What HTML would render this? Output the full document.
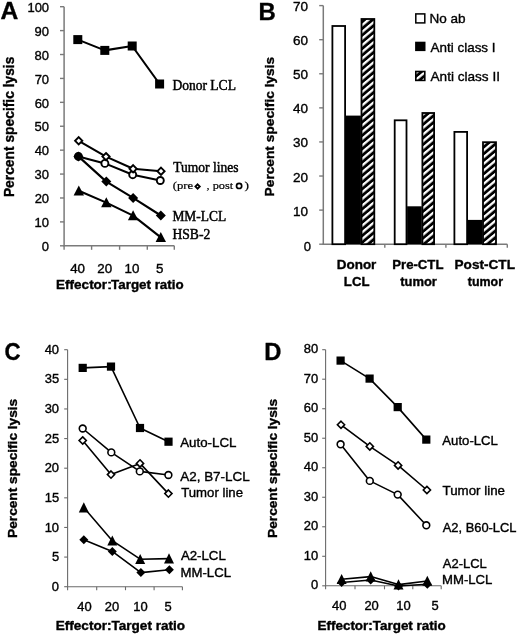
<!DOCTYPE html>
<html><head><meta charset="utf-8"><style>
html,body{margin:0;padding:0;background:#fff;}
svg{display:block;will-change:transform;}
text{font-kerning:normal;}
.t{stroke:#000;stroke-width:0.35px;}
.s{stroke-width:0.45px;}
</style></head><body>
<svg width="520" height="635" viewBox="0 0 520 635">
<defs>
<pattern id="hatch" patternUnits="userSpaceOnUse" width="5.12" height="5.12" patternTransform="rotate(-40)">
<rect width="5.12" height="5.12" fill="#000"/><rect y="0" width="5.12" height="2.3" fill="#fff"/>
</pattern>
<pattern id="hatch2" patternUnits="userSpaceOnUse" y="4.673" width="5.12" height="5.12" patternTransform="rotate(-40)">
<rect width="5.12" height="5.12" fill="#000"/><rect y="0" width="5.12" height="2.3" fill="#fff"/>
</pattern>
</defs>
<rect width="520" height="635" fill="#fff"/>
<line x1="64.10" y1="6.70" x2="64.10" y2="246.30" stroke="#7a7a7a" stroke-width="1.5" stroke-linecap="butt"/>
<line x1="60.00" y1="245.80" x2="64.10" y2="245.80" stroke="#7a7a7a" stroke-width="1.4" stroke-linecap="butt"/>
<line x1="60.00" y1="221.89" x2="64.10" y2="221.89" stroke="#7a7a7a" stroke-width="1.4" stroke-linecap="butt"/>
<line x1="60.00" y1="197.98" x2="64.10" y2="197.98" stroke="#7a7a7a" stroke-width="1.4" stroke-linecap="butt"/>
<line x1="60.00" y1="174.07" x2="64.10" y2="174.07" stroke="#7a7a7a" stroke-width="1.4" stroke-linecap="butt"/>
<line x1="60.00" y1="150.16" x2="64.10" y2="150.16" stroke="#7a7a7a" stroke-width="1.4" stroke-linecap="butt"/>
<line x1="60.00" y1="126.25" x2="64.10" y2="126.25" stroke="#7a7a7a" stroke-width="1.4" stroke-linecap="butt"/>
<line x1="60.00" y1="102.34" x2="64.10" y2="102.34" stroke="#7a7a7a" stroke-width="1.4" stroke-linecap="butt"/>
<line x1="60.00" y1="78.43" x2="64.10" y2="78.43" stroke="#7a7a7a" stroke-width="1.4" stroke-linecap="butt"/>
<line x1="60.00" y1="54.52" x2="64.10" y2="54.52" stroke="#7a7a7a" stroke-width="1.4" stroke-linecap="butt"/>
<line x1="60.00" y1="30.61" x2="64.10" y2="30.61" stroke="#7a7a7a" stroke-width="1.4" stroke-linecap="butt"/>
<line x1="60.00" y1="6.70" x2="64.10" y2="6.70" stroke="#7a7a7a" stroke-width="1.4" stroke-linecap="butt"/>
<line x1="63.40" y1="245.80" x2="174.30" y2="245.80" stroke="#7a7a7a" stroke-width="1.5" stroke-linecap="butt"/>
<line x1="64.10" y1="245.80" x2="64.10" y2="249.80" stroke="#7a7a7a" stroke-width="1.4" stroke-linecap="butt"/>
<line x1="91.60" y1="245.80" x2="91.60" y2="249.80" stroke="#7a7a7a" stroke-width="1.4" stroke-linecap="butt"/>
<line x1="119.60" y1="245.80" x2="119.60" y2="249.80" stroke="#7a7a7a" stroke-width="1.4" stroke-linecap="butt"/>
<line x1="147.30" y1="245.80" x2="147.30" y2="249.80" stroke="#7a7a7a" stroke-width="1.4" stroke-linecap="butt"/>
<line x1="174.30" y1="245.80" x2="174.30" y2="249.80" stroke="#7a7a7a" stroke-width="1.4" stroke-linecap="butt"/>
<polyline points="77.80,39.60 104.80,50.40 132.20,46.00 159.60,84.00" fill="none" stroke="#000" stroke-width="2.1" stroke-linejoin="round"/>
<rect x="73.30" y="35.10" width="9.00" height="9.00" fill="#000"/>
<rect x="100.30" y="45.90" width="9.00" height="9.00" fill="#000"/>
<rect x="127.70" y="41.50" width="9.00" height="9.00" fill="#000"/>
<rect x="155.10" y="79.50" width="9.00" height="9.00" fill="#000"/>
<polyline points="78.80,190.80 106.30,202.60 133.10,215.60 160.80,237.40" fill="none" stroke="#000" stroke-width="2.1" stroke-linejoin="round"/>
<polyline points="78.40,156.40 106.30,181.60 133.10,197.90 160.80,215.50" fill="none" stroke="#000" stroke-width="2.1" stroke-linejoin="round"/>
<polyline points="78.40,156.40 104.90,163.40 132.70,174.70 160.30,180.50" fill="none" stroke="#000" stroke-width="2.1" stroke-linejoin="round"/>
<polyline points="78.70,140.80 106.00,156.60 133.10,168.80 161.00,171.20" fill="none" stroke="#000" stroke-width="2.1" stroke-linejoin="round"/>
<polygon points="78.80,185.50 84.00,195.50 73.60,195.50" fill="#000"/>
<polygon points="106.30,197.30 111.50,207.30 101.10,207.30" fill="#000"/>
<polygon points="133.10,210.30 138.30,220.30 127.90,220.30" fill="#000"/>
<polygon points="160.80,232.10 166.00,242.10 155.60,242.10" fill="#000"/>
<circle cx="78.40" cy="156.40" r="3.50" fill="#fff" stroke="#000" stroke-width="1.9"/>
<circle cx="104.90" cy="163.40" r="3.50" fill="#fff" stroke="#000" stroke-width="1.9"/>
<circle cx="132.70" cy="174.70" r="3.50" fill="#fff" stroke="#000" stroke-width="1.9"/>
<circle cx="160.30" cy="180.50" r="3.50" fill="#fff" stroke="#000" stroke-width="1.9"/>
<polygon points="78.40,151.40 83.40,156.40 78.40,161.40 73.40,156.40" fill="#000"/>
<polygon points="106.30,176.60 111.30,181.60 106.30,186.60 101.30,181.60" fill="#000"/>
<polygon points="133.10,192.90 138.10,197.90 133.10,202.90 128.10,197.90" fill="#000"/>
<polygon points="160.80,210.50 165.80,215.50 160.80,220.50 155.80,215.50" fill="#000"/>
<polygon points="78.70,137.20 82.30,140.80 78.70,144.40 75.10,140.80" fill="#fff" stroke="#000" stroke-width="1.9" stroke-linejoin="miter"/>
<polygon points="106.00,153.00 109.60,156.60 106.00,160.20 102.40,156.60" fill="#fff" stroke="#000" stroke-width="1.9" stroke-linejoin="miter"/>
<polygon points="133.10,165.20 136.70,168.80 133.10,172.40 129.50,168.80" fill="#fff" stroke="#000" stroke-width="1.9" stroke-linejoin="miter"/>
<polygon points="161.00,167.60 164.60,171.20 161.00,174.80 157.40,171.20" fill="#fff" stroke="#000" stroke-width="1.9" stroke-linejoin="miter"/>
<polygon points="197.60,184.30 199.80,186.50 197.60,188.70 195.40,186.50" fill="#fff" stroke="#000" stroke-width="1.8" stroke-linejoin="miter"/>
<circle cx="239.10" cy="185.90" r="2.60" fill="#fff" stroke="#000" stroke-width="1.7"/>
<line x1="323.30" y1="5.60" x2="323.30" y2="244.70" stroke="#7a7a7a" stroke-width="1.5" stroke-linecap="butt"/>
<line x1="319.20" y1="244.20" x2="323.30" y2="244.20" stroke="#7a7a7a" stroke-width="1.4" stroke-linecap="butt"/>
<line x1="319.20" y1="210.11" x2="323.30" y2="210.11" stroke="#7a7a7a" stroke-width="1.4" stroke-linecap="butt"/>
<line x1="319.20" y1="176.03" x2="323.30" y2="176.03" stroke="#7a7a7a" stroke-width="1.4" stroke-linecap="butt"/>
<line x1="319.20" y1="141.94" x2="323.30" y2="141.94" stroke="#7a7a7a" stroke-width="1.4" stroke-linecap="butt"/>
<line x1="319.20" y1="107.86" x2="323.30" y2="107.86" stroke="#7a7a7a" stroke-width="1.4" stroke-linecap="butt"/>
<line x1="319.20" y1="73.77" x2="323.30" y2="73.77" stroke="#7a7a7a" stroke-width="1.4" stroke-linecap="butt"/>
<line x1="319.20" y1="39.69" x2="323.30" y2="39.69" stroke="#7a7a7a" stroke-width="1.4" stroke-linecap="butt"/>
<line x1="319.20" y1="5.60" x2="323.30" y2="5.60" stroke="#7a7a7a" stroke-width="1.4" stroke-linecap="butt"/>
<line x1="322.60" y1="244.20" x2="507.30" y2="244.20" stroke="#7a7a7a" stroke-width="1.5" stroke-linecap="butt"/>
<line x1="384.80" y1="244.20" x2="384.80" y2="247.70" stroke="#7a7a7a" stroke-width="1.4" stroke-linecap="butt"/>
<line x1="445.90" y1="244.20" x2="445.90" y2="247.70" stroke="#7a7a7a" stroke-width="1.4" stroke-linecap="butt"/>
<line x1="507.30" y1="244.20" x2="507.30" y2="247.70" stroke="#7a7a7a" stroke-width="1.4" stroke-linecap="butt"/>
<rect x="332.40" y="26.00" width="12.70" height="218.20" fill="#fff" stroke="#000" stroke-width="1.8"/>
<rect x="345.70" y="115.60" width="15.20" height="128.60" fill="#000"/>
<rect x="361.50" y="19.00" width="12.80" height="225.20" fill="url(#hatch)" stroke="#000" stroke-width="1.8"/>
<rect x="394.70" y="120.30" width="11.80" height="123.90" fill="#fff" stroke="#000" stroke-width="1.8"/>
<rect x="407.10" y="206.30" width="14.70" height="37.90" fill="#000"/>
<rect x="422.40" y="113.00" width="11.70" height="131.20" fill="url(#hatch)" stroke="#000" stroke-width="1.8"/>
<rect x="454.40" y="131.90" width="12.70" height="112.30" fill="#fff" stroke="#000" stroke-width="1.8"/>
<rect x="467.70" y="219.90" width="14.70" height="24.30" fill="#000"/>
<rect x="483.00" y="142.20" width="13.00" height="102.00" fill="url(#hatch)" stroke="#000" stroke-width="1.8"/>
<rect x="415.80" y="13.90" width="9.00" height="9.00" fill="#fff" stroke="#000" stroke-width="1.5"/>
<rect x="415.10" y="41.70" width="10.40" height="9.40" fill="#000"/>
<rect x="415.80" y="71.50" width="9.00" height="8.90" fill="url(#hatch2)" stroke="#000" stroke-width="1.6"/>
<line x1="67.60" y1="349.70" x2="67.60" y2="590.20" stroke="#6a6a6a" stroke-width="1.1" stroke-linecap="butt"/>
<line x1="64.20" y1="586.70" x2="67.60" y2="586.70" stroke="#6a6a6a" stroke-width="1.1" stroke-linecap="butt"/>
<line x1="64.20" y1="557.08" x2="67.60" y2="557.08" stroke="#6a6a6a" stroke-width="1.1" stroke-linecap="butt"/>
<line x1="64.20" y1="527.45" x2="67.60" y2="527.45" stroke="#6a6a6a" stroke-width="1.1" stroke-linecap="butt"/>
<line x1="64.20" y1="497.83" x2="67.60" y2="497.83" stroke="#6a6a6a" stroke-width="1.1" stroke-linecap="butt"/>
<line x1="64.20" y1="468.20" x2="67.60" y2="468.20" stroke="#6a6a6a" stroke-width="1.1" stroke-linecap="butt"/>
<line x1="64.20" y1="438.58" x2="67.60" y2="438.58" stroke="#6a6a6a" stroke-width="1.1" stroke-linecap="butt"/>
<line x1="64.20" y1="408.95" x2="67.60" y2="408.95" stroke="#6a6a6a" stroke-width="1.1" stroke-linecap="butt"/>
<line x1="64.20" y1="379.32" x2="67.60" y2="379.32" stroke="#6a6a6a" stroke-width="1.1" stroke-linecap="butt"/>
<line x1="64.20" y1="349.70" x2="67.60" y2="349.70" stroke="#6a6a6a" stroke-width="1.1" stroke-linecap="butt"/>
<line x1="67.60" y1="586.70" x2="182.40" y2="586.70" stroke="#6a6a6a" stroke-width="1.1" stroke-linecap="butt"/>
<line x1="96.70" y1="586.70" x2="96.70" y2="590.20" stroke="#6a6a6a" stroke-width="1.1" stroke-linecap="butt"/>
<line x1="125.50" y1="586.70" x2="125.50" y2="590.20" stroke="#6a6a6a" stroke-width="1.1" stroke-linecap="butt"/>
<line x1="154.10" y1="586.70" x2="154.10" y2="590.20" stroke="#6a6a6a" stroke-width="1.1" stroke-linecap="butt"/>
<line x1="182.40" y1="586.70" x2="182.40" y2="590.20" stroke="#6a6a6a" stroke-width="1.1" stroke-linecap="butt"/>
<polyline points="82.70,367.90 111.00,366.60 140.00,428.00 168.50,441.70" fill="none" stroke="#000" stroke-width="1.6" stroke-linejoin="round"/>
<polyline points="82.70,428.50 111.30,452.40 139.80,471.40 168.40,475.00" fill="none" stroke="#000" stroke-width="1.6" stroke-linejoin="round"/>
<polyline points="82.70,440.50 111.00,474.60 140.00,463.40 168.40,493.60" fill="none" stroke="#000" stroke-width="1.6" stroke-linejoin="round"/>
<polyline points="83.80,507.60 112.30,540.70 140.20,559.20 169.00,558.60" fill="none" stroke="#000" stroke-width="1.6" stroke-linejoin="round"/>
<polyline points="83.80,539.80 112.30,551.40 140.90,572.60 169.40,569.80" fill="none" stroke="#000" stroke-width="1.6" stroke-linejoin="round"/>
<rect x="78.60" y="363.80" width="8.20" height="8.20" fill="#000"/>
<rect x="106.90" y="362.50" width="8.20" height="8.20" fill="#000"/>
<rect x="135.90" y="423.90" width="8.20" height="8.20" fill="#000"/>
<rect x="164.40" y="437.60" width="8.20" height="8.20" fill="#000"/>
<circle cx="82.70" cy="428.50" r="3.40" fill="#fff" stroke="#000" stroke-width="1.6"/>
<circle cx="111.30" cy="452.40" r="3.40" fill="#fff" stroke="#000" stroke-width="1.6"/>
<circle cx="139.80" cy="471.40" r="3.40" fill="#fff" stroke="#000" stroke-width="1.6"/>
<circle cx="168.40" cy="475.00" r="3.40" fill="#fff" stroke="#000" stroke-width="1.6"/>
<polygon points="82.70,436.90 86.30,440.50 82.70,444.10 79.10,440.50" fill="#fff" stroke="#000" stroke-width="1.6" stroke-linejoin="miter"/>
<polygon points="111.00,471.00 114.60,474.60 111.00,478.20 107.40,474.60" fill="#fff" stroke="#000" stroke-width="1.6" stroke-linejoin="miter"/>
<polygon points="140.00,459.80 143.60,463.40 140.00,467.00 136.40,463.40" fill="#fff" stroke="#000" stroke-width="1.6" stroke-linejoin="miter"/>
<polygon points="168.40,490.00 172.00,493.60 168.40,497.20 164.80,493.60" fill="#fff" stroke="#000" stroke-width="1.6" stroke-linejoin="miter"/>
<polygon points="83.80,502.30 88.80,512.40 78.80,512.40" fill="#000"/>
<polygon points="112.30,535.40 117.30,545.50 107.30,545.50" fill="#000"/>
<polygon points="140.20,553.90 145.20,564.00 135.20,564.00" fill="#000"/>
<polygon points="169.00,553.30 174.00,563.40 164.00,563.40" fill="#000"/>
<polygon points="83.80,535.30 88.30,539.80 83.80,544.30 79.30,539.80" fill="#000"/>
<polygon points="112.30,546.90 116.80,551.40 112.30,555.90 107.80,551.40" fill="#000"/>
<polygon points="140.90,568.10 145.40,572.60 140.90,577.10 136.40,572.60" fill="#000"/>
<polygon points="169.40,565.30 173.90,569.80 169.40,574.30 164.90,569.80" fill="#000"/>
<line x1="325.60" y1="349.70" x2="325.60" y2="589.30" stroke="#6a6a6a" stroke-width="1.1" stroke-linecap="butt"/>
<line x1="322.20" y1="585.80" x2="325.60" y2="585.80" stroke="#6a6a6a" stroke-width="1.1" stroke-linecap="butt"/>
<line x1="322.20" y1="556.29" x2="325.60" y2="556.29" stroke="#6a6a6a" stroke-width="1.1" stroke-linecap="butt"/>
<line x1="322.20" y1="526.77" x2="325.60" y2="526.77" stroke="#6a6a6a" stroke-width="1.1" stroke-linecap="butt"/>
<line x1="322.20" y1="497.26" x2="325.60" y2="497.26" stroke="#6a6a6a" stroke-width="1.1" stroke-linecap="butt"/>
<line x1="322.20" y1="467.75" x2="325.60" y2="467.75" stroke="#6a6a6a" stroke-width="1.1" stroke-linecap="butt"/>
<line x1="322.20" y1="438.24" x2="325.60" y2="438.24" stroke="#6a6a6a" stroke-width="1.1" stroke-linecap="butt"/>
<line x1="322.20" y1="408.73" x2="325.60" y2="408.73" stroke="#6a6a6a" stroke-width="1.1" stroke-linecap="butt"/>
<line x1="322.20" y1="379.21" x2="325.60" y2="379.21" stroke="#6a6a6a" stroke-width="1.1" stroke-linecap="butt"/>
<line x1="322.20" y1="349.70" x2="325.60" y2="349.70" stroke="#6a6a6a" stroke-width="1.1" stroke-linecap="butt"/>
<line x1="325.60" y1="585.80" x2="441.20" y2="585.80" stroke="#6a6a6a" stroke-width="1.1" stroke-linecap="butt"/>
<line x1="355.00" y1="585.80" x2="355.00" y2="589.30" stroke="#6a6a6a" stroke-width="1.1" stroke-linecap="butt"/>
<line x1="384.50" y1="585.80" x2="384.50" y2="589.30" stroke="#6a6a6a" stroke-width="1.1" stroke-linecap="butt"/>
<line x1="412.80" y1="585.80" x2="412.80" y2="589.30" stroke="#6a6a6a" stroke-width="1.1" stroke-linecap="butt"/>
<line x1="441.20" y1="585.80" x2="441.20" y2="589.30" stroke="#6a6a6a" stroke-width="1.1" stroke-linecap="butt"/>
<polyline points="340.60,360.60 369.60,378.60 397.70,407.10 426.30,439.60" fill="none" stroke="#000" stroke-width="1.6" stroke-linejoin="round"/>
<polyline points="341.00,424.80 369.80,446.40 398.10,465.40 426.90,490.00" fill="none" stroke="#000" stroke-width="1.6" stroke-linejoin="round"/>
<polyline points="340.60,444.30 369.80,480.90 397.70,494.60 426.30,525.30" fill="none" stroke="#000" stroke-width="1.6" stroke-linejoin="round"/>
<polyline points="341.60,579.20 370.70,576.60 398.50,584.60 427.30,581.00" fill="none" stroke="#000" stroke-width="1.6" stroke-linejoin="round"/>
<polyline points="341.60,582.50 370.70,580.00 398.50,586.00 427.30,584.20" fill="none" stroke="#000" stroke-width="1.6" stroke-linejoin="round"/>
<rect x="336.50" y="356.50" width="8.20" height="8.20" fill="#000"/>
<rect x="365.50" y="374.50" width="8.20" height="8.20" fill="#000"/>
<rect x="393.60" y="403.00" width="8.20" height="8.20" fill="#000"/>
<rect x="422.20" y="435.50" width="8.20" height="8.20" fill="#000"/>
<circle cx="340.60" cy="444.30" r="3.40" fill="#fff" stroke="#000" stroke-width="1.6"/>
<circle cx="369.80" cy="480.90" r="3.40" fill="#fff" stroke="#000" stroke-width="1.6"/>
<circle cx="397.70" cy="494.60" r="3.40" fill="#fff" stroke="#000" stroke-width="1.6"/>
<circle cx="426.30" cy="525.30" r="3.40" fill="#fff" stroke="#000" stroke-width="1.6"/>
<polygon points="341.00,421.20 344.60,424.80 341.00,428.40 337.40,424.80" fill="#fff" stroke="#000" stroke-width="1.6" stroke-linejoin="miter"/>
<polygon points="369.80,442.80 373.40,446.40 369.80,450.00 366.20,446.40" fill="#fff" stroke="#000" stroke-width="1.6" stroke-linejoin="miter"/>
<polygon points="398.10,461.80 401.70,465.40 398.10,469.00 394.50,465.40" fill="#fff" stroke="#000" stroke-width="1.6" stroke-linejoin="miter"/>
<polygon points="426.90,486.40 430.50,490.00 426.90,493.60 423.30,490.00" fill="#fff" stroke="#000" stroke-width="1.6" stroke-linejoin="miter"/>
<polygon points="341.60,578.00 346.10,582.50 341.60,587.00 337.10,582.50" fill="#000"/>
<polygon points="370.70,575.50 375.20,580.00 370.70,584.50 366.20,580.00" fill="#000"/>
<polygon points="398.50,581.50 403.00,586.00 398.50,590.50 394.00,586.00" fill="#000"/>
<polygon points="427.30,579.70 431.80,584.20 427.30,588.70 422.80,584.20" fill="#000"/>
<polygon points="341.60,573.90 346.60,584.00 336.60,584.00" fill="#000"/>
<polygon points="370.70,571.30 375.70,581.40 365.70,581.40" fill="#000"/>
<polygon points="398.50,579.30 403.50,589.40 393.50,589.40" fill="#000"/>
<polygon points="427.30,575.70 432.30,585.80 422.30,585.80" fill="#000"/>
<text class="t" transform="translate(0.48,18.70) scale(1.0261,1)" font-family="Liberation Sans" font-weight="bold" font-size="24" fill="#000">A</text>
<text class="t" transform="translate(41.84,250.99) scale(1.0000,1)" font-family="Liberation Sans" font-weight="normal" font-size="13" fill="#000">0</text>
<text class="t" transform="translate(34.62,227.07) scale(1.0000,1)" font-family="Liberation Sans" font-weight="normal" font-size="13" fill="#000">10</text>
<text class="t" transform="translate(34.63,203.17) scale(1.0000,1)" font-family="Liberation Sans" font-weight="normal" font-size="13" fill="#000">20</text>
<text class="t" transform="translate(34.62,179.25) scale(1.0000,1)" font-family="Liberation Sans" font-weight="normal" font-size="13" fill="#000">30</text>
<text class="t" transform="translate(34.63,155.35) scale(1.0000,1)" font-family="Liberation Sans" font-weight="normal" font-size="13" fill="#000">40</text>
<text class="t" transform="translate(34.62,131.44) scale(1.0000,1)" font-family="Liberation Sans" font-weight="normal" font-size="13" fill="#000">50</text>
<text class="t" transform="translate(34.63,107.53) scale(1.0000,1)" font-family="Liberation Sans" font-weight="normal" font-size="13" fill="#000">60</text>
<text class="t" transform="translate(34.63,83.62) scale(1.0000,1)" font-family="Liberation Sans" font-weight="normal" font-size="13" fill="#000">70</text>
<text class="t" transform="translate(34.62,59.71) scale(1.0000,1)" font-family="Liberation Sans" font-weight="normal" font-size="13" fill="#000">80</text>
<text class="t" transform="translate(34.62,35.80) scale(1.0000,1)" font-family="Liberation Sans" font-weight="normal" font-size="13" fill="#000">90</text>
<text class="t" transform="translate(27.41,11.89) scale(1.0000,1)" font-family="Liberation Sans" font-weight="normal" font-size="13" fill="#000">100</text>
<text class="t" transform="translate(70.17,272.69) scale(1.0300,1)" font-family="Liberation Sans" font-weight="normal" font-size="13" fill="#000">40</text>
<text class="t" transform="translate(97.37,272.69) scale(1.0300,1)" font-family="Liberation Sans" font-weight="normal" font-size="13" fill="#000">20</text>
<text class="t" transform="translate(124.60,272.69) scale(1.0300,1)" font-family="Liberation Sans" font-weight="normal" font-size="13" fill="#000">10</text>
<text class="t" transform="translate(155.98,272.62) scale(1.0300,1)" font-family="Liberation Sans" font-weight="normal" font-size="13" fill="#000">5</text>
<text class="t" transform="translate(14.40,197.10) rotate(-90) scale(1.0088,1)" font-family="Liberation Sans" font-weight="bold" font-size="13.7" fill="#000">Percent specific lysis</text>
<text class="t" transform="translate(56.12,288.60) scale(1.1077,1)" font-family="Liberation Sans" font-weight="bold" font-size="12.2" fill="#000">Effector</text>
<text class="t" transform="translate(106.71,288.60) scale(1.7256,1)" font-family="Liberation Sans" font-weight="normal" font-size="12.2" fill="#000">:</text>
<text class="t" transform="translate(111.07,288.60) scale(1.0970,1)" font-family="Liberation Sans" font-weight="bold" font-size="12.2" fill="#000">Target ratio</text>
<text class="t s" transform="translate(172.39,89.50) scale(0.9819,1)" font-family="Liberation Serif" font-weight="normal" font-size="13.8" fill="#000">Donor LCL</text>
<text class="t s" transform="translate(173.23,171.50) scale(0.9799,1)" font-family="Liberation Serif" font-weight="normal" font-size="13.8" fill="#000">Tumor lines</text>
<text class="t s" transform="translate(172.73,189.40) scale(1.1321,1)" font-family="Liberation Serif" font-weight="normal" font-size="11.2" fill="#000" style="stroke-width:0.2px">(pre</text>
<text class="t s" transform="translate(206.51,189.40) scale(1.1034,1)" font-family="Liberation Serif" font-weight="normal" font-size="11.2" fill="#000" style="stroke-width:0.2px">, post</text>
<text class="t s" transform="translate(244.60,189.40) scale(1.2019,1)" font-family="Liberation Serif" font-weight="normal" font-size="11.2" fill="#000" style="stroke-width:0.2px">)</text>
<text class="t s" transform="translate(172.40,221.20) scale(0.9748,1)" font-family="Liberation Serif" font-weight="normal" font-size="13.8" fill="#000">MM-LCL</text>
<text class="t s" transform="translate(172.39,238.80) scale(0.9895,1)" font-family="Liberation Serif" font-weight="normal" font-size="13.8" fill="#000">HSB-2</text>
<text class="t" transform="translate(258.54,19.50) scale(0.9769,1)" font-family="Liberation Sans" font-weight="bold" font-size="24.5" fill="#000">B</text>
<text class="t" transform="translate(293.07,215.60) scale(1.0400,1)" font-family="Liberation Sans" font-weight="normal" font-size="13" fill="#000">10</text>
<text class="t" transform="translate(293.07,181.51) scale(1.0400,1)" font-family="Liberation Sans" font-weight="normal" font-size="13" fill="#000">20</text>
<text class="t" transform="translate(293.07,147.43) scale(1.0400,1)" font-family="Liberation Sans" font-weight="normal" font-size="13" fill="#000">30</text>
<text class="t" transform="translate(293.07,113.34) scale(1.0400,1)" font-family="Liberation Sans" font-weight="normal" font-size="13" fill="#000">40</text>
<text class="t" transform="translate(293.07,79.26) scale(1.0400,1)" font-family="Liberation Sans" font-weight="normal" font-size="13" fill="#000">50</text>
<text class="t" transform="translate(293.07,45.17) scale(1.0400,1)" font-family="Liberation Sans" font-weight="normal" font-size="13" fill="#000">60</text>
<text class="t" transform="translate(293.07,11.08) scale(1.0400,1)" font-family="Liberation Sans" font-weight="normal" font-size="13" fill="#000">70</text>
<text class="t" transform="translate(303.74,250.58) scale(1.0000,1)" font-family="Liberation Sans" font-weight="normal" font-size="13" fill="#000">0</text>
<text class="t" transform="translate(273.70,196.39) rotate(-90) scale(1.0022,1)" font-family="Liberation Sans" font-weight="bold" font-size="13.7" fill="#000">Percent specific lysis</text>
<text class="t" transform="translate(429.52,22.80) scale(1.0560,1)" font-family="Liberation Sans" font-weight="normal" font-size="12.8" fill="#000">No ab</text>
<text class="t" transform="translate(430.53,52.00) scale(1.0516,1)" font-family="Liberation Sans" font-weight="normal" font-size="12.8" fill="#000">Anti class I</text>
<text class="t" transform="translate(430.53,81.40) scale(1.0624,1)" font-family="Liberation Sans" font-weight="normal" font-size="12.8" fill="#000">Anti class II</text>
<text class="t" transform="translate(336.72,269.40) scale(1.0693,1)" font-family="Liberation Sans" font-weight="bold" font-size="12.6" fill="#000">Donor</text>
<text class="t" transform="translate(343.84,285.80) scale(1.0468,1)" font-family="Liberation Sans" font-weight="bold" font-size="12.6" fill="#000">LCL</text>
<text class="t" transform="translate(392.24,269.40) scale(1.0457,1)" font-family="Liberation Sans" font-weight="bold" font-size="12.6" fill="#000">Pre-CTL</text>
<text class="t" transform="translate(400.17,285.80) scale(1.0281,1)" font-family="Liberation Sans" font-weight="bold" font-size="12.6" fill="#000">tumor</text>
<text class="t" transform="translate(454.52,269.40) scale(1.0801,1)" font-family="Liberation Sans" font-weight="bold" font-size="12.6" fill="#000">Post-CTL</text>
<text class="t" transform="translate(467.78,285.80) scale(0.9885,1)" font-family="Liberation Sans" font-weight="bold" font-size="12.6" fill="#000">tumor</text>
<text class="t" transform="translate(4.41,360.40) scale(0.9288,1)" font-family="Liberation Sans" font-weight="bold" font-size="24" fill="#000">C</text>
<text class="t" transform="translate(51.86,590.84) scale(1.0800,1)" font-family="Liberation Sans" font-weight="normal" font-size="12" fill="#000">0</text>
<text class="t" transform="translate(51.93,561.16) scale(1.0800,1)" font-family="Liberation Sans" font-weight="normal" font-size="12" fill="#000">5</text>
<text class="t" transform="translate(44.67,531.59) scale(1.0800,1)" font-family="Liberation Sans" font-weight="normal" font-size="12" fill="#000">10</text>
<text class="t" transform="translate(44.73,501.91) scale(1.0800,1)" font-family="Liberation Sans" font-weight="normal" font-size="12" fill="#000">15</text>
<text class="t" transform="translate(44.67,472.34) scale(1.0800,1)" font-family="Liberation Sans" font-weight="normal" font-size="12" fill="#000">20</text>
<text class="t" transform="translate(44.73,442.72) scale(1.0800,1)" font-family="Liberation Sans" font-weight="normal" font-size="12" fill="#000">25</text>
<text class="t" transform="translate(44.67,413.09) scale(1.0800,1)" font-family="Liberation Sans" font-weight="normal" font-size="12" fill="#000">30</text>
<text class="t" transform="translate(44.73,383.46) scale(1.0800,1)" font-family="Liberation Sans" font-weight="normal" font-size="12" fill="#000">35</text>
<text class="t" transform="translate(44.67,353.84) scale(1.0800,1)" font-family="Liberation Sans" font-weight="normal" font-size="12" fill="#000">40</text>
<text class="t" transform="translate(77.20,611.04) scale(1.0800,1)" font-family="Liberation Sans" font-weight="normal" font-size="12" fill="#000">40</text>
<text class="t" transform="translate(104.71,611.04) scale(1.0800,1)" font-family="Liberation Sans" font-weight="normal" font-size="12" fill="#000">20</text>
<text class="t" transform="translate(133.35,611.04) scale(1.0800,1)" font-family="Liberation Sans" font-weight="normal" font-size="12" fill="#000">10</text>
<text class="t" transform="translate(164.40,610.98) scale(1.0800,1)" font-family="Liberation Sans" font-weight="normal" font-size="12" fill="#000">5</text>
<text class="t" transform="translate(16.90,537.89) rotate(-90) scale(1.0217,1)" font-family="Liberation Sans" font-weight="bold" font-size="13.4" fill="#000">Percent specific lysis</text>
<text class="t" transform="translate(55.72,629.80) scale(1.1129,1)" font-family="Liberation Sans" font-weight="bold" font-size="12.2" fill="#000">Effector:Target ratio</text>
<text class="t" transform="translate(180.23,446.70) scale(1.1091,1)" font-family="Liberation Sans" font-weight="normal" font-size="12" fill="#000">Auto-LCL</text>
<text class="t" transform="translate(180.23,480.90) scale(1.1209,1)" font-family="Liberation Sans" font-weight="normal" font-size="12" fill="#000">A2, B7-LCL</text>
<text class="t" transform="translate(181.24,496.50) scale(1.0985,1)" font-family="Liberation Sans" font-weight="normal" font-size="12" fill="#000">Tumor line</text>
<text class="t" transform="translate(180.93,560.30) scale(1.1028,1)" font-family="Liberation Sans" font-weight="normal" font-size="12" fill="#000">A2-LCL</text>
<text class="t" transform="translate(180.44,576.60) scale(1.0999,1)" font-family="Liberation Sans" font-weight="normal" font-size="12" fill="#000">MM-LCL</text>
<text class="t" transform="translate(264.26,360.00) scale(0.9690,1)" font-family="Liberation Sans" font-weight="bold" font-size="24.5" fill="#000">D</text>
<text class="t" transform="translate(311.06,589.34) scale(1.0800,1)" font-family="Liberation Sans" font-weight="normal" font-size="12" fill="#000">0</text>
<text class="t" transform="translate(303.87,559.83) scale(1.0800,1)" font-family="Liberation Sans" font-weight="normal" font-size="12" fill="#000">10</text>
<text class="t" transform="translate(303.87,530.31) scale(1.0800,1)" font-family="Liberation Sans" font-weight="normal" font-size="12" fill="#000">20</text>
<text class="t" transform="translate(303.87,500.80) scale(1.0800,1)" font-family="Liberation Sans" font-weight="normal" font-size="12" fill="#000">30</text>
<text class="t" transform="translate(303.87,471.29) scale(1.0800,1)" font-family="Liberation Sans" font-weight="normal" font-size="12" fill="#000">40</text>
<text class="t" transform="translate(303.87,441.78) scale(1.0800,1)" font-family="Liberation Sans" font-weight="normal" font-size="12" fill="#000">50</text>
<text class="t" transform="translate(303.87,412.26) scale(1.0800,1)" font-family="Liberation Sans" font-weight="normal" font-size="12" fill="#000">60</text>
<text class="t" transform="translate(303.87,382.75) scale(1.0800,1)" font-family="Liberation Sans" font-weight="normal" font-size="12" fill="#000">70</text>
<text class="t" transform="translate(303.87,353.24) scale(1.0800,1)" font-family="Liberation Sans" font-weight="normal" font-size="12" fill="#000">80</text>
<text class="t" transform="translate(332.00,609.74) scale(1.0800,1)" font-family="Liberation Sans" font-weight="normal" font-size="12" fill="#000">40</text>
<text class="t" transform="translate(364.41,609.74) scale(1.0800,1)" font-family="Liberation Sans" font-weight="normal" font-size="12" fill="#000">20</text>
<text class="t" transform="translate(396.35,609.74) scale(1.0800,1)" font-family="Liberation Sans" font-weight="normal" font-size="12" fill="#000">10</text>
<text class="t" transform="translate(431.50,609.68) scale(1.0800,1)" font-family="Liberation Sans" font-weight="normal" font-size="12" fill="#000">5</text>
<text class="t" transform="translate(277.30,537.89) rotate(-90) scale(1.0217,1)" font-family="Liberation Sans" font-weight="bold" font-size="13.4" fill="#000">Percent specific lysis</text>
<text class="t" transform="translate(317.53,629.50) scale(1.1025,1)" font-family="Liberation Sans" font-weight="bold" font-size="12.2" fill="#000">Effector:Target ratio</text>
<text class="t" transform="translate(442.33,445.00) scale(1.0972,1)" font-family="Liberation Sans" font-weight="normal" font-size="12" fill="#000">Auto-LCL</text>
<text class="t" transform="translate(442.53,495.20) scale(1.1111,1)" font-family="Liberation Sans" font-weight="normal" font-size="12" fill="#000">Tumor line</text>
<text class="t" transform="translate(442.74,532.00) scale(1.0750,1)" font-family="Liberation Sans" font-weight="normal" font-size="12" fill="#000">A2, B60-LCL</text>
<text class="t" transform="translate(442.74,567.90) scale(1.0830,1)" font-family="Liberation Sans" font-weight="normal" font-size="12" fill="#000">A2-LCL</text>
<text class="t" transform="translate(442.05,583.90) scale(1.0954,1)" font-family="Liberation Sans" font-weight="normal" font-size="12" fill="#000">MM-LCL</text>
</svg>
</body></html>
